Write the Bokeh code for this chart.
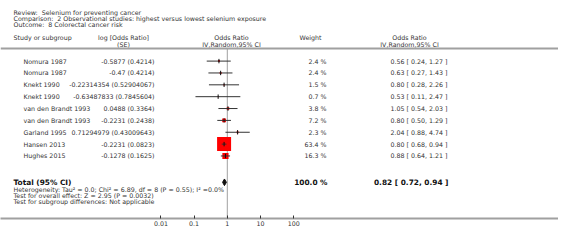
import numpy as np
from bokeh.plotting import figure
from bokeh.models import (Range1d, LogScale, LogAxis, FixedTicker,
                          CustomJSTickFormatter, Span, ColumnDataSource)
from bokeh.core.properties import value
from bokeh.embed import file_html
from bokeh.resources import INLINE

# ---------------- data ----------------
studies = ["Nomura 1987", "Nomura 1987", "Knekt 1990", "Knekt 1990",
           "van den Brandt 1993", "van den Brandt 1993", "Garland 1995",
           "Hansen 2013", "Hughes 2015"]
log_or = ["-0.5877", "-0.47", "-0.22314354", "-0.63487833", "0.0488",
          "-0.2231", "0.71294979", "-0.2231", "-0.1278"]
se = ["0.4214", "0.4214", "0.52904067", "0.7845604", "0.3364",
      "0.2438", "0.43009643", "0.0823", "0.1625"]
weights = [2.4, 2.4, 1.5, 0.7, 3.8, 7.2, 2.3, 63.4, 16.3]
odds = [0.56, 0.63, 0.80, 0.53, 1.05, 0.80, 2.04, 0.80, 0.88]
ci_lo = [0.24, 0.27, 0.28, 0.11, 0.54, 0.50, 0.88, 0.68, 0.64]
ci_hi = [1.27, 1.43, 2.26, 2.47, 2.03, 1.29, 4.74, 0.94, 1.21]
total_or, total_lo, total_hi, total_w = 0.82, 0.72, 0.94, 100.0
axis_ticks = [0.01, 0.1, 1, 10, 100]

title_lines = ["Review:\u00a0 Selenium for preventing cancer",
               "Comparison:\u00a0 2 Observational studies: highest versus lowest selenium exposure",
               "Outcome:\u00a0 8 Colorectal cancer risk"]
foot_lines = ["Heterogeneity: Tau\u00b2 = 0.0; Chi\u00b2 = 6.89, df = 8 (P = 0.55); I\u00b2 =0.0%",
              "Test for overall effect: Z = 2.95 (P = 0.0032)",
              "Test for subgroup differences: Not applicable"]

# ---------------- layout ----------------
FW, FH = 558, 218
FONT = value("DejaVu Sans")
FS = "6.3px"
TXT = "#333333"
GRID = "#a0a0a0"

row0, row_step = 60.6, 11.86          # pixel centre of first row, row pitch
def r(px):                             # pixel y -> row units
    return (px - row0) / row_step

dec_px, one_px = 33.2, 226.8          # px per decade, x of OR=1

p = figure(frame_width=FW, frame_height=FH, output_backend="svg", toolbar_location=None,
           x_range=Range1d(0, FW), y_range=Range1d(r(FH), r(0)),
           min_border_left=0, min_border_right=0, min_border_top=0,
           min_border_bottom=0, outline_line_color=None)
p.axis.visible = False
p.xgrid.visible = False
p.ygrid.visible = False
p.background_fill_color = None
p.border_fill_color = "white"

p.extra_x_ranges = {"or": Range1d(10 ** ((0 - one_px) / dec_px),
                                  10 ** ((FW - one_px) / dec_px))}
p.extra_x_scales = {"or": LogScale()}

ax = LogAxis(x_range_name="or", ticker=FixedTicker(ticks=axis_ticks),
             formatter=CustomJSTickFormatter(code="return String(tick)"))
ax.axis_line_color = GRID
ax.axis_line_width = 2
ax.major_tick_in = 3
ax.major_tick_out = 0
ax.major_tick_line_color = "#333333"
ax.minor_tick_line_color = None
ax.major_label_text_font = "DejaVu Sans"
ax.major_label_text_font_size = FS
ax.major_label_text_color = TXT
ax.major_label_standoff = 2
p.add_layout(ax, "below")

# header separator
p.add_layout(Span(location=r(48), dimension="width", line_color=GRID, line_width=2))

rows = list(range(len(studies)))
total_row = r(181.8)
tick_h = 2.2 / row_step

# line of no effect
p.segment(x0=[1], x1=[1], y0=[r(48)], y1=[r(FH)], x_range_name="or",
          line_color=GRID, line_width=1)

# study markers
sizes = [14 * (w / 63.4) ** 0.6 for w in weights]
src = ColumnDataSource(dict(y=rows, odds=odds, lo=ci_lo, hi=ci_hi, size=sizes,
                            ytop=[y - tick_h for y in rows], ybot=[y + tick_h for y in rows],
                            name=studies,
                            est=[f"{a} ({b})" for a, b in zip(log_or, se)],
                            w=[f"{w:.1f} %" for w in weights],
                            ci=[f"{o:.2f} [ {l:.2f}, {h:.2f} ]" for o, l, h in zip(odds, ci_lo, ci_hi)]))
p.scatter(x="odds", y="y", size="size", marker="square", source=src,
          x_range_name="or", fill_color="#ff0000", line_color=None)
p.segment(x0="lo", x1="hi", y0="y", y1="y", source=src, x_range_name="or",
          line_color="#333333", line_width=1)
p.segment(x0="odds", x1="odds", y0="ytop", y1="ybot", source=src,
          x_range_name="or", line_color="#111111", line_width=1)

# total diamond
dh = 0.28
p.patch(x=[total_lo, total_or, total_hi, total_or],
        y=[total_row, total_row - dh, total_row, total_row + dh],
        x_range_name="or", fill_color="#111111", line_color="#111111")

def txt(x, y, t, align="left", size=FS, style="normal", color=TXT):
    p.text(x=x, y=y, text=t, text_font=FONT, text_font_size=size,
           text_font_style=style, text_color=color, text_align=align,
           text_baseline="middle")

# title block
txt([13] * 3, [r(11.7), r(18.2), r(24.3)], title_lines)
# column headers
txt([13], [r(37.3)], ["Study or subgroup"])
txt([123, 123], [r(37.3), r(43.6)], ["log [Odds Ratio]", "(SE)"], align="center")
txt([231, 231], [r(37.3), r(43.6)], ["Odds Ratio", "IV,Random,95% CI"], align="center")
txt([310], [r(37.3)], ["Weight"], align="center")
txt([409, 409], [r(37.3), r(43.6)], ["Odds Ratio", "IV,Random,95% CI"], align="center")

# study rows
p.text(x=23, y="y", text="name", source=src, text_font=FONT, text_font_size=FS,
       text_color=TXT, text_baseline="middle")
p.text(x=154, y="y", text="est", source=src, text_font=FONT, text_font_size=FS,
       text_color=TXT, text_baseline="middle", text_align="right")
p.text(x=326, y="y", text="w", source=src, text_font=FONT, text_font_size=FS,
       text_color=TXT, text_baseline="middle", text_align="right")
p.text(x=447, y="y", text="ci", source=src, text_font=FONT, text_font_size=FS,
       text_color=TXT, text_baseline="middle", text_align="right")

# total row
BFS = "7.4px"
txt([13], [total_row], ["Total (95% CI)"], size=BFS, style="bold", color="#111111")
txt([327], [total_row], [f"{total_w:.1f} %"], align="right", size=BFS, style="bold", color="#111111")
txt([448], [total_row], [f"{total_or:.2f} [ {total_lo:.2f}, {total_hi:.2f} ]"],
    align="right", size=BFS, style="bold", color="#111111")
txt([13] * 3, [r(188.6), r(194.8), r(201.4)], foot_lines)

open("out.html", "w").write(file_html(p, INLINE))
